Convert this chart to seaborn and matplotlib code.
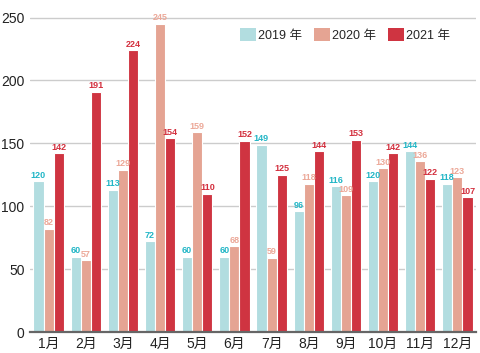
import pandas as pd
import matplotlib
matplotlib.use('Agg')
import matplotlib.pyplot as plt
import seaborn as sns

# monthly values
months = ['1月', '2月', '3月', '4月', '5月', '6月', '7月', '8月', '9月', '10月', '11月', '12月']
years = ['2019 年', '2020 年', '2021 年']
v2019 = [120, 60, 113, 72, 60, 60, 149, 96, 116, 120, 144, 118]
v2020 = [82, 57, 129, 245, 159, 68, 59, 118, 109, 130, 136, 123]
v2021 = [142, 191, 224, 154, 110, 152, 125, 144, 153, 142, 122, 107]

bar_colors = ['#b2dde0', '#e5a493', '#cf3441']
label_colors = ['#22b6c6', '#eca898', '#d3303e']

df = pd.DataFrame({
    'month': months * 3,
    'year': [years[0]] * 12 + [years[1]] * 12 + [years[2]] * 12,
    'value': v2019 + v2020 + v2021,
})

sns.set_style('white')
plt.rcParams['font.family'] = ['Liberation Sans', 'Noto Sans CJK SC', 'DejaVu Sans']

fig = plt.figure(figsize=(4.8, 3.53), dpi=100)
ax = fig.add_axes([30 / 480, 1 - 332 / 353, 446 / 480, 327 / 353])

sns.barplot(data=df, x='month', y='value', hue='year', palette=bar_colors,
            saturation=1, width=0.82, edgecolor='white', linewidth=0.8,
            ax=ax, zorder=3)

for cont, c in zip(ax.containers, label_colors):
    ax.bar_label(cont, color=c, fontsize=6.5, fontweight='bold', padding=1)

ax.set_ylim(0, 260)
ax.set_xlim(-0.5, 11.5)
ax.set_yticks([0, 50, 100, 150, 200, 250])
ax.yaxis.grid(True, color='#cccccc', linewidth=1)
ax.set_axisbelow(True)
ax.set_xlabel('')
ax.set_ylabel('')
ax.tick_params(axis='both', labelsize=10, length=0, colors='#222222')
ax.tick_params(axis='y', pad=4)
for s in ['left', 'right', 'top']:
    ax.spines[s].set_visible(False)
ax.spines['bottom'].set_color('#666666')
ax.spines['bottom'].set_linewidth(1.6)
ax.spines['bottom'].set_zorder(5)

leg = ax.legend(ncol=3, loc='center left', bbox_to_anchor=(0.47, 0.908), frameon=False,
                fontsize=9, handlelength=1.3, handleheight=1.25, handletextpad=0.15,
                columnspacing=0.95, borderpad=0, borderaxespad=0)
for h in leg.legend_handles:
    h.set_linewidth(0)

fig.savefig('out.png', dpi=100)
